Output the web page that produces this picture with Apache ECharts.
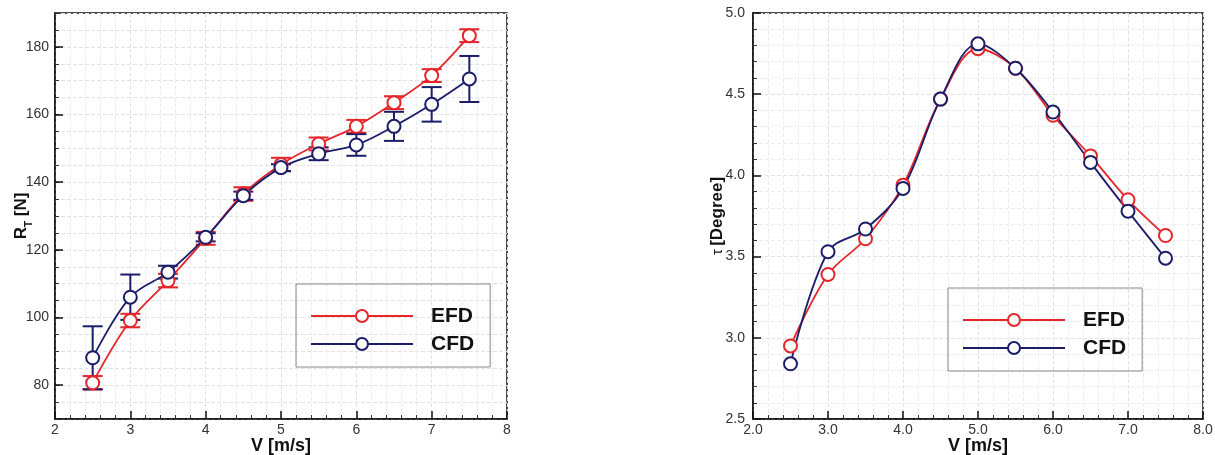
<!DOCTYPE html>
<html>
<head>
<meta charset="utf-8">
<script src="https://cdn.jsdelivr.net/npm/echarts@6/dist/echarts.min.js"></script>
<style>
  html, body { margin: 0; padding: 0; background: #fff; }
  #chart { width: 1215px; height: 455px; }
</style>
</head>
<body>
<div id="chart"></div>
<script>
// speed values (same for both plots)
const speed = [2.5, 3.0, 3.5, 4.0, 4.5, 5.0, 5.5, 6.0, 6.5, 7.0, 7.5];

// total resistance R_T [N]
const rtEfd = [80.7, 99.1, 110.9, 123.4, 136.5, 145.2, 151.3, 156.5, 163.5, 171.5, 183.3];
const rtEfdErr = [2.0, 2.0, 2.0, 1.9, 2.0, 2.0, 1.9, 1.9, 1.9, 1.9, 1.9];
const rtCfd = [88.1, 106.0, 113.4, 123.7, 136.0, 144.3, 148.4, 151.0, 156.5, 163.0, 170.5];
const rtCfdErr = [9.3, 6.7, 1.9, 1.2, 1.2, 1.0, 1.9, 3.2, 4.3, 5.1, 6.8];
const rtTicks = [80, 100, 120, 140, 160, 180];

// trim angle tau [Degree]
const tauEfd = [2.95, 3.39, 3.61, 3.94, 4.47, 4.78, 4.66, 4.37, 4.12, 3.85, 3.63];
const tauCfd = [2.84, 3.53, 3.67, 3.92, 4.47, 4.81, 4.66, 4.39, 4.08, 3.78, 3.49];

const red = "#e5262b";
const blue = "#1b1d6a";
const font = "Liberation Sans";

function pairs(xs, ys) {
  return xs.map((x, i) => [x, ys[i]]);
}
function bars(xs, ys, err) {
  return xs.map((x, i) => [x, ys[i] - err[i], ys[i] + err[i]]);
}

function renderErrorBar(params, api) {
  const x = api.value(0);
  const top = api.coord([x, api.value(2)]);
  const bot = api.coord([x, api.value(1)]);
  const w = 10;
  const style = { stroke: api.visual("color"), lineWidth: 2, fill: null };
  return {
    type: "group",
    children: [
      { type: "line", shape: { x1: top[0], y1: top[1], x2: bot[0], y2: bot[1] }, style: style },
      { type: "line", shape: { x1: top[0] - w, y1: top[1], x2: top[0] + w, y2: top[1] }, style: style },
      { type: "line", shape: { x1: bot[0] - w, y1: bot[1], x2: bot[0] + w, y2: bot[1] }, style: style },
    ],
  };
}

const gridLine = { show: true, lineStyle: { color: "#e2e2e2", type: "dashed" } };
const minorGridLine = { show: true, lineStyle: { color: "#ededed", type: "dashed" } };

function xAxis(idx, decimals) {
  return {
    type: "value",
    gridIndex: idx,
    min: 2,
    max: 8,
    interval: 1,
    name: "V [m/s]",
    nameLocation: "middle",
    nameGap: 18,
    nameMoveOverlap: false,
    nameTextStyle: { fontFamily: font, fontSize: 18, fontWeight: "bold", color: "#111" },
    axisLine: { lineStyle: { color: "#111", width: 1.5 } },
    axisTick: { inside: true, length: 8, lineStyle: { color: "#111", width: 1.5 } },
    minorTick: { show: true, splitNumber: 5, length: 4, lineStyle: { color: "#333" } },
    axisLabel: {
      fontFamily: font,
      fontSize: 14,
      color: "#333",
      margin: 4,
      formatter: (v) => v.toFixed(decimals),
    },
    splitLine: gridLine,
    minorSplitLine: minorGridLine,
  };
}

function seriesLine(name, color, x, y, data) {
  return {
    name: name,
    type: "line",
    xAxisIndex: x,
    yAxisIndex: y,
    data: data,
    smooth: 0.35,
    symbol: "emptyCircle",
    symbolSize: 13,
    z: 3,
    lineStyle: { color: color, width: 1.8 },
    itemStyle: { color: color, borderWidth: 2 },
  };
}

function legendBox(left, top) {
  return {
    data: ["EFD", "CFD"],
    orient: "vertical",
    left: left,
    top: top,
    itemWidth: 102,
    itemHeight: 15,
    itemGap: 4,
    padding: [20, 16, 11, 14],
    borderColor: "#888",
    borderWidth: 1,
    selectedMode: false,
    textStyle: {
      fontFamily: font,
      fontSize: 21,
      fontWeight: "bold",
      color: "#111",
      lineHeight: 24,
      padding: [0, 0, 0, 13],
    },
  };
}

const chart = echarts.init(document.getElementById("chart"));
chart.setOption({
  animation: false,
  backgroundColor: "#fff",
  grid: [
    { left: 55, top: 13, width: 452, height: 406, show: true, borderColor: "#111", borderWidth: 1.5, outerBoundsMode: "none" },
    { left: 753, top: 13, width: 450, height: 406, show: true, borderColor: "#111", borderWidth: 1.5, outerBoundsMode: "none" },
  ],
  legend: [legendBox(296, 284), legendBox(948, 288)],
  xAxis: [xAxis(0, 0), xAxis(1, 1)],
  yAxis: [
    {
      // R_T axis: grid lines and short ticks every 5, labels from rtTicks
      type: "value",
      gridIndex: 0,
      min: 70,
      max: 190,
      interval: 5,
      name: "{a|R}{s|T}{a| [N]}",
      nameLocation: "middle",
      nameGap: 25,
      nameMoveOverlap: false,
      nameTextStyle: {
        rich: {
          a: { fontFamily: font, fontSize: 17, fontWeight: "bold", color: "#111" },
          s: { fontFamily: font, fontSize: 10, fontWeight: "bold", color: "#111", verticalAlign: "bottom", padding: [0, 0, -4, 0] },
        },
      },
      axisLine: { lineStyle: { color: "#111", width: 1.5 } },
      axisTick: { inside: true, length: 4, lineStyle: { color: "#333" } },
      axisLabel: {
        fontFamily: font,
        fontSize: 14,
        color: "#333",
        margin: 6,
        customValues: rtTicks,
      },
      splitLine: gridLine,
    },
    {
      type: "value",
      gridIndex: 1,
      min: 2.5,
      max: 5.0,
      interval: 0.5,
      name: "{t|τ} {a|[Degree]}",
      nameLocation: "middle",
      nameGap: 27,
      nameMoveOverlap: false,
      nameTextStyle: {
        rich: {
          t: { fontFamily: font, fontSize: 15, color: "#111" },
          a: { fontFamily: font, fontSize: 17, fontWeight: "bold", color: "#111" },
        },
      },
      axisLine: { lineStyle: { color: "#111", width: 1.5 } },
      axisTick: { inside: true, length: 8, lineStyle: { color: "#111", width: 1.5 } },
      minorTick: { show: true, splitNumber: 5, length: 4, lineStyle: { color: "#333" } },
      axisLabel: {
        fontFamily: font,
        fontSize: 14,
        color: "#333",
        margin: 8,
        formatter: (v) => v.toFixed(1),
      },
      splitLine: gridLine,
      minorSplitLine: minorGridLine,
    },
    {
      // overlay for the long major ticks on the R_T axis
      type: "value",
      gridIndex: 0,
      position: "left",
      min: 70,
      max: 190,
      interval: 5,
      axisLine: { show: false },
      axisTick: { inside: true, length: 8, customValues: rtTicks, lineStyle: { color: "#111", width: 1.5 } },
      axisLabel: { show: false },
      splitLine: { show: false },
    },
  ],
  series: [
    {
      name: "EFD error",
      type: "custom",
      xAxisIndex: 0,
      yAxisIndex: 0,
      renderItem: renderErrorBar,
      itemStyle: { color: red },
      data: bars(speed, rtEfd, rtEfdErr),
      z: 2,
    },
    {
      name: "CFD error",
      type: "custom",
      xAxisIndex: 0,
      yAxisIndex: 0,
      renderItem: renderErrorBar,
      itemStyle: { color: blue },
      data: bars(speed, rtCfd, rtCfdErr),
      z: 2,
    },
    seriesLine("EFD", red, 0, 0, pairs(speed, rtEfd)),
    seriesLine("CFD", blue, 0, 0, pairs(speed, rtCfd)),
    seriesLine("EFD", red, 1, 1, pairs(speed, tauEfd)),
    seriesLine("CFD", blue, 1, 1, pairs(speed, tauCfd)),
  ],
});
</script>
</body>
</html>
